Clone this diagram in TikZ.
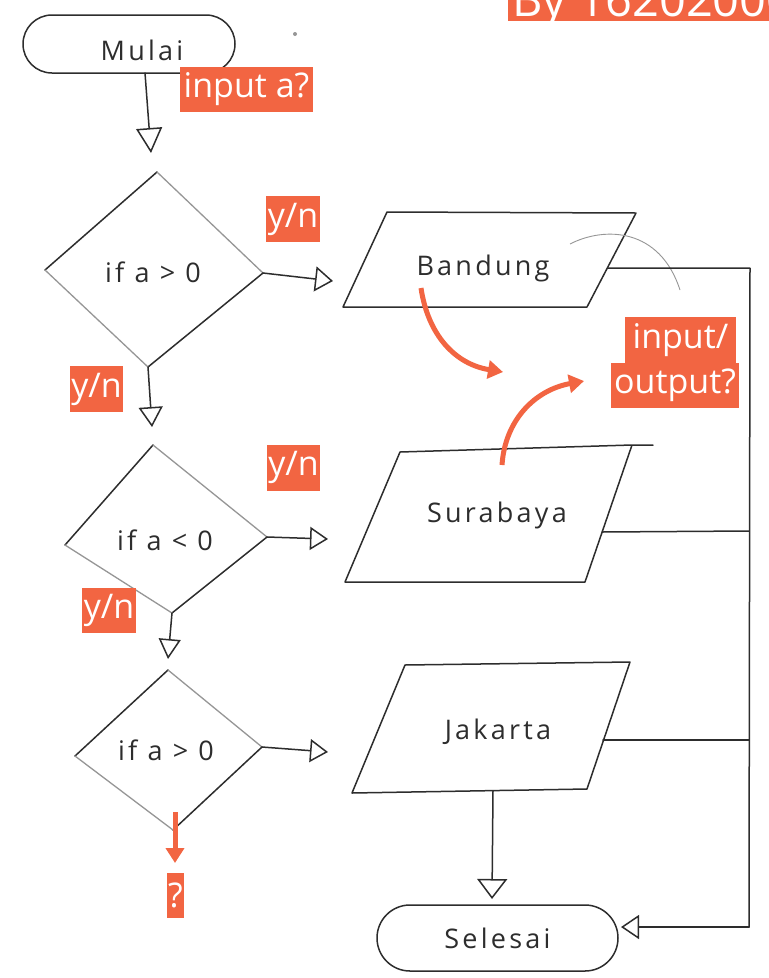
\documentclass[tikz,border=0pt]{standalone}
\usepackage{fontspec}
\setmainfont{Open Sans}
\newfontfamily\handfont[LetterSpace=12]{Open Sans}
\usetikzlibrary{arrows.meta}
\definecolor{tagorange}{RGB}{242,101,66}
\definecolor{ink}{RGB}{45,45,45}
\definecolor{inklight}{RGB}{150,150,150}
\tikzset{
  pen/.style={draw=ink, line width=1.5pt, line cap=round, line join=round},
  penlight/.style={draw=inklight, line width=1.3pt, line cap=round},
  flow/.style 2 args={pen, -{Triangle[open, length=#1, width=#2, line width=1.5pt]}},
  tag/.style={fill=tagorange, text=white, inner sep=0pt, font=\fontsize{34}{40}\selectfont},
  hand/.style={text=ink, inner sep=0pt, font=\handfont\fontsize{27}{30}\selectfont},
  note/.style={draw=tagorange, line width=5pt, -{Triangle[length=15pt, width=18pt]}},
  terminal/.style={pen, rounded corners=#1, inner sep=0pt}
}
\begin{document}
\begin{tikzpicture}[x=1pt, y=-1pt]
\useasboundingbox (0,0) rectangle (769,978);
\fill[white] (0,0) rectangle (769,978);

% ---- start terminal
\node[terminal=29pt, minimum width=212pt, minimum height=58pt] (start) at (129,44) {};
\node[hand] (startText) at (142,50) {Mulai};
\fill[inklight] (295,34) circle (2pt);

% ---- decision 1
\coordinate (d1t) at (157,172);
\coordinate (d1l) at (45,270);
\coordinate (d1r) at (263,273);
\coordinate (d1b) at (148,367);
\draw[pen] (d1l) -- (d1t);
\draw[penlight] (d1t) -- (d1r);
\draw[pen] (d1r) -- (d1b);
\draw[penlight] (d1b) -- (d1l);
\node[hand] (d1text) at (153,272) {if a > 0};

% ---- decision 2
\coordinate (d2t) at (153,445);
\coordinate (d2l) at (65,545);
\coordinate (d2r) at (267,537);
\coordinate (d2b) at (172,613);
\draw[pen] (d2l) -- (d2t);
\draw[penlight] (d2t) -- (d2r);
\draw[pen] (d2r) -- (d2b);
\draw[penlight] (d2b) -- (d2l);
\node[hand] (d2text) at (165,540) {if a < 0};

% ---- decision 3
\coordinate (d3t) at (168,670);
\coordinate (d3l) at (75,756);
\coordinate (d3r) at (262,747);
\coordinate (d3b) at (173,830);
\draw[pen] (d3l) -- (d3t);
\draw[penlight] (d3t) -- (d3r);
\draw[pen] (d3r) -- (d3b);
\draw[penlight] (d3b) -- (d3l);
\node[hand] (d3text) at (166,750) {if a > 0};

% ---- output: Bandung
\coordinate (p1a) at (387,212);
\coordinate (p1b) at (636,213);
\coordinate (p1c) at (587,307);
\coordinate (p1d) at (343,307);
\draw[pen] (p1a) -- (p1b) -- (p1c) -- (p1d) -- cycle;
\node[hand] (bandung) at (483,268) {Bandung};
\draw[inklight, line width=0.9pt] (570,244) .. controls (605,226) and (660,228) .. (680,290);

% ---- output: Surabaya
\coordinate (p2a) at (400,452);
\coordinate (p2b) at (632,445);
\coordinate (p2c) at (585,582);
\coordinate (p2d) at (345,582);
\coordinate (p2x) at (653,445);
\draw[pen] (p2x) -- (p2b) -- (p2c) -- (p2d) -- (p2a) -- (p2b);
\node[hand] (surabaya) at (497,515) {Surabaya};

% ---- output: Jakarta
\coordinate (p3a) at (405,665);
\coordinate (p3b) at (630,662);
\coordinate (p3c) at (587,789);
\coordinate (p3d) at (352,793);
\draw[pen] (p3a) -- (p3b) -- (p3c) -- (p3d) -- cycle;
\node[hand] (jakarta) at (498,732) {Jakarta};

% ---- end terminal
\node[terminal=33pt, minimum width=241pt, minimum height=66pt, hand] (finish) at (497.5,938) {Selesai};

% ---- flow lines
\coordinate (startOut) at (145,73);
\coordinate (d1in) at (151,153);
\draw[flow={25pt}{26pt}] (startOut) -- (d1in);

\coordinate (p1in) at (333,281);
\draw[flow={18pt}{25pt}] (d1r) -- (p1in);
\coordinate (d2in) at (152,427);
\draw[flow={20pt}{24pt}] (d1b) -- (d2in);

\coordinate (p2in) at (328,539);
\draw[flow={18pt}{23pt}] (d2r) -- (p2in);
\coordinate (d3in) at (168,659);
\draw[flow={20pt}{22pt}] (d2b) -- (d3in);

\coordinate (p3in) at (328,752);
\draw[flow={18pt}{23pt}] (d3r) -- (p3in);

\coordinate (p3out) at (493,791);
\coordinate (finIn) at (492,899);
\draw[flow={20pt}{30pt}] (p3out) -- (finIn);

% return rail on the right
\coordinate (p1r) at (608,268);
\coordinate (railTop) at (750,268);
\coordinate (railBot) at (749,927);
\coordinate (finR) at (621,927);
\coordinate (p2r) at (602,532);
\coordinate (rail2) at (749,531);
\coordinate (p3r) at (603,740);
\coordinate (rail3) at (749,740);
\draw[pen] (p1r) -- (railTop) -- (railBot);
\draw[pen] (p2r) -- (rail2);
\draw[pen] (p3r) -- (rail3);
\draw[flow={18pt}{24pt}] (railBot) -- (finR);

% ---- annotations
\node[tag, minimum width=133pt, minimum height=45pt] (tagInput) at (246.5,89.5) {input a?};
\node[tag, minimum width=54pt, minimum height=46pt] (yn1) at (293,219) {y/n};
\node[tag, minimum width=53pt, minimum height=46pt] (yn2) at (96.5,389) {y/n};
\node[tag, minimum width=53pt, minimum height=46pt] (yn3) at (293.5,467.5) {y/n};
\node[tag, minimum width=54pt, minimum height=45pt] (yn4) at (109,610.5) {y/n};
\node[tag, minimum width=111pt, minimum height=46pt] (io1) at (680.5,340) {input/};
\node[tag, minimum width=128pt, minimum height=45pt] (io2) at (675,385.5) {output?};
\node[tag, minimum width=17pt, minimum height=45pt] (qmark) at (175.5,895.5) {?};

\coordinate (n1s) at (421,288);
\coordinate (n1e) at (503,372);
\draw[note] (n1s) .. controls (428,335) and (455,364) .. (n1e);
\coordinate (n2s) at (502,465);
\coordinate (n2e) at (584,381);
\draw[note] (n2s) .. controls (505,420) and (535,390) .. (n2e);
\coordinate (n3s) at (175,812);
\coordinate (n3e) at (175,863);
\draw[note] (n3s) -- (n3e);

% ---- author tag
\fill[tagorange] (508,-10) rectangle (769,20.7);
\node[anchor=base west, text=white, inner sep=0pt, font=\fontsize{47}{50}\selectfont] (author) at (512,16) {By 162020005};
\end{tikzpicture}
\end{document}
